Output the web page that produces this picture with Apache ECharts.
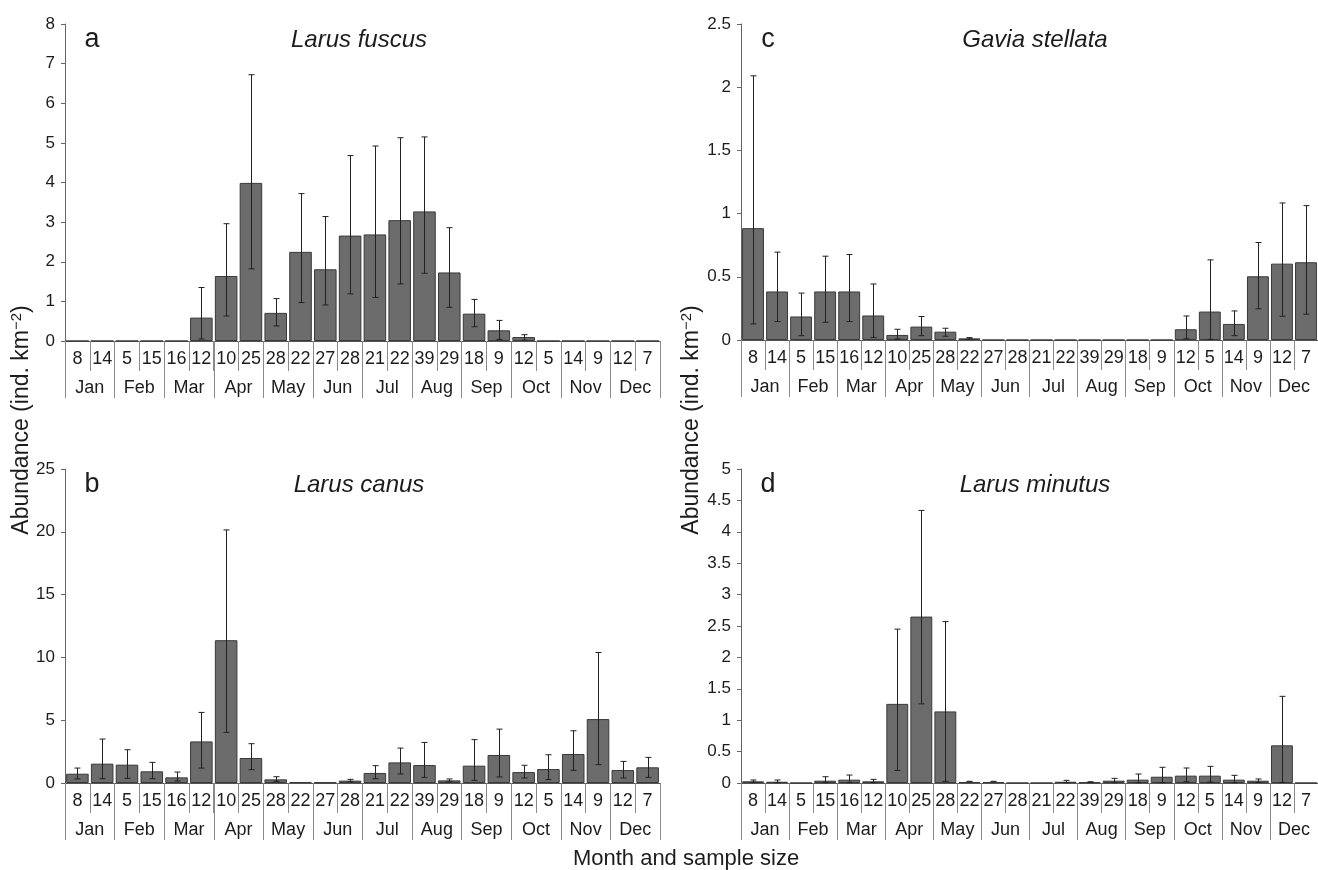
<!DOCTYPE html>
<html>
<head>
<meta charset="UTF-8">
<title>Seasonal abundance</title>
<script src="https://cdn.jsdelivr.net/npm/echarts@6/dist/echarts.min.js"></script>
<style>
  html, body { margin: 0; padding: 0; background: #fff; }
  #main { width: 1318px; height: 870px; }
</style>
</head>
<body>
<div id="main"></div>
<script type="text/javascript">
    // months and sample size (same for all four species)
    var months = ['Jan', 'Feb', 'Mar', 'Apr', 'May', 'Jun', 'Jul', 'Aug', 'Sep', 'Oct', 'Nov', 'Dec'];
    var sampleSizes = [8, 14, 5, 15, 16, 12, 10, 25, 28, 22, 27, 28, 21, 22, 39, 29, 18, 9, 12, 5, 14, 9, 12, 7];

    // a - Larus fuscus
    var fuscusMean = [0, 0, 0, 0, 0, 0.59, 1.64, 3.99, 0.71, 2.25, 1.81, 2.66, 2.69, 3.05, 3.27, 1.73, 0.69, 0.27, 0.10, 0, 0, 0, 0, 0];
    var fuscusLow  = [null, null, null, null, null, 0.05, 0.63, 1.82, 0.38, 0.97, 0.91, 1.19, 1.10, 1.44, 1.71, 0.85, 0.36, 0.04, 0.02, null, null, null, null, null];
    var fuscusHigh = [null, null, null, null, null, 1.35, 2.96, 6.72, 1.07, 3.72, 3.14, 4.68, 4.92, 5.13, 5.15, 2.86, 1.05, 0.52, 0.16, null, null, null, null, null];

    // c - Gavia stellata
    var stellataMean = [0.885, 0.384, 0.186, 0.384, 0.384, 0.194, 0.04, 0.106, 0.066, 0.013, 0, 0, 0, 0, 0, 0, 0, 0, 0.085, 0.225, 0.127, 0.504, 0.604, 0.615];
    var stellataLow  = [0.127, 0.146, 0.034, 0.14, 0.146, 0.02, 0.008, 0.034, 0.03, 0.008, null, null, null, null, null, null, null, null, 0.01, 0.005, 0.034, 0.247, 0.188, 0.204];
    var stellataHigh = [2.09, 0.695, 0.371, 0.663, 0.676, 0.443, 0.085, 0.186, 0.093, 0.019, null, null, null, null, null, null, null, null, 0.19, 0.634, 0.23, 0.771, 1.084, 1.063];

    // b - Larus canus
    var canusMean = [0.74, 1.54, 1.46, 0.93, 0.45, 3.31, 11.37, 1.99, 0.29, 0.08, 0.05, 0.19, 0.80, 1.64, 1.43, 0.21, 1.38, 2.23, 0.87, 1.11, 2.31, 5.09, 1.03, 1.25];
    var canusLow  = [0.32, 0.34, 0.37, 0.34, 0.16, 1.19, 4.03, 1.06, 0.13, null, null, 0.10, 0.34, 0.72, 0.45, 0.10, 0.21, 0.48, 0.40, 0.27, 1.01, 1.46, 0.40, 0.45];
    var canusHigh = [1.19, 3.50, 2.65, 1.64, 0.87, 5.62, 20.15, 3.13, 0.50, null, null, 0.29, 1.38, 2.78, 3.23, 0.32, 3.45, 4.29, 1.41, 2.25, 4.16, 10.39, 1.72, 2.04];

    // d - Larus minutus
    var minutusMean = [0.027, 0.02, 0, 0.037, 0.053, 0.027, 1.26, 2.65, 1.14, 0.016, 0.016, 0, 0, 0.02, 0.01, 0.037, 0.053, 0.10, 0.117, 0.117, 0.053, 0.037, 0.60, 0];
    var minutusLow  = [0.01, 0.005, null, 0.005, 0.005, 0.005, 0.20, 1.26, 0.027, null, null, null, null, 0.005, null, 0.005, 0.005, 0.005, 0.02, 0.015, 0.005, 0.01, 0.01, null];
    var minutusHigh = [0.048, 0.048, null, 0.10, 0.127, 0.058, 2.45, 4.34, 2.57, 0.027, 0.027, null, null, 0.042, 0.02, 0.074, 0.143, 0.25, 0.239, 0.265, 0.122, 0.064, 1.38, null];

    var FONT = '"Liberation Sans", Arial, Helvetica, sans-serif';
    var TXT = '#1c1c1c';

    // panel order: a, c, b, d
    var panels = [
        { letter: 'a', name: 'Larus fuscus',   mean: fuscusMean,   low: fuscusLow,   high: fuscusHigh,   max: 8,   step: 1,   grid: { left: 65,  top: 24,  width: 595, height: 317 } },
        { letter: 'c', name: 'Gavia stellata', mean: stellataMean, low: stellataLow, high: stellataHigh, max: 2.5, step: 0.5, grid: { left: 741, top: 24,  width: 577, height: 316 } },
        { letter: 'b', name: 'Larus canus',    mean: canusMean,    low: canusLow,    high: canusHigh,    max: 25,  step: 5,   grid: { left: 65,  top: 469, width: 595, height: 314 } },
        { letter: 'd', name: 'Larus minutus',  mean: minutusMean,  low: minutusLow,  high: minutusHigh,  max: 5,   step: 0.5, grid: { left: 741, top: 469, width: 577, height: 314 } }
    ];

    // error bar: vertical line with small caps at both ends
    function renderErr(params, api) {
        var i = api.value(0);
        var pHi = api.coord([i, api.value(2)]);
        var pLo = api.coord([i, api.value(1)]);
        var cx = Math.round(pHi[0]) + 0.5;
        var w = 3;
        var st = { stroke: '#222', lineWidth: 1 };
        return {
            type: 'group',
            children: [
                { type: 'line', shape: { x1: cx, y1: pHi[1], x2: cx, y2: pLo[1] }, style: st },
                { type: 'line', shape: { x1: cx - w, y1: pHi[1], x2: cx + w, y2: pHi[1] }, style: st },
                { type: 'line', shape: { x1: cx - w, y1: pLo[1], x2: cx + w, y2: pLo[1] }, style: st }
            ]
        };
    }

    var grids = [], xAxes = [], yAxes = [], series = [], graphics = [];

    panels.forEach(function (p, g) {
        grids.push(p.grid);

        // sample size row
        xAxes.push({
            type: 'category', gridIndex: g, position: 'bottom',
            data: sampleSizes.map(String),
            axisLine: { show: true, lineStyle: { color: '#555', width: 1 } },
            axisTick: { show: true, interval: 0, length: 30, lineStyle: { color: '#8a8a8a' } },
            axisLabel: { interval: 0, margin: 9, fontSize: 18, color: TXT, fontFamily: FONT }
        });
        // month row
        xAxes.push({
            type: 'category', gridIndex: g, position: 'bottom',
            data: months,
            axisLine: { show: false },
            axisTick: { show: true, interval: 0, length: 57, lineStyle: { color: '#8a8a8a' } },
            axisLabel: { interval: 0, margin: 38, fontSize: 18, color: TXT, fontFamily: FONT }
        });
        yAxes.push({
            type: 'value', gridIndex: g, min: 0, max: p.max, interval: p.step,
            splitLine: { show: false },
            axisLine: { show: true, lineStyle: { color: '#666' } },
            axisTick: { show: true, length: 4, lineStyle: { color: '#666' } },
            axisLabel: { fontSize: 17, color: TXT, fontFamily: FONT, margin: 10 }
        });

        series.push({
            type: 'bar', xAxisIndex: 2 * g, yAxisIndex: g,
            data: p.mean,
            barCategoryGap: '9%',
            itemStyle: { color: '#6c6c6c', borderColor: '#3a3a3a', borderWidth: 1 },
            silent: true
        });

        var err = [];
        p.mean.forEach(function (m, i) {
            if (p.high[i] != null) {
                err.push([i, p.low[i] != null ? p.low[i] : m, p.high[i]]);
            }
        });
        series.push({
            type: 'custom', xAxisIndex: 2 * g, yAxisIndex: g,
            renderItem: renderErr,
            encode: { x: 0, y: [1, 2] },
            data: err,
            z: 5, silent: true
        });

        var cxLetter = p.grid.left + 27;
        var cxName = p.grid.left + 294;
        var cy = p.grid.top + 16;
        graphics.push({ type: 'text', x: cxLetter, y: cy, style: { text: p.letter, fontSize: 27, fontFamily: FONT, fill: TXT, align: 'center', verticalAlign: 'middle' } });
        graphics.push({ type: 'text', x: cxName, y: cy, style: { text: p.name, fontSize: 24, fontStyle: 'italic', fontFamily: FONT, fill: TXT, align: 'center', verticalAlign: 'middle' } });
    });

    // shared axis titles
    var yTitle = {
        text: 'Abundance (ind. km{sup|\u22122})',
        fontSize: 23, fontFamily: FONT, fill: TXT, align: 'center', verticalAlign: 'middle',
        rich: { sup: { fontSize: 15, fontFamily: FONT, padding: [0, 0, 11, 0] } }
    };
    graphics.push({ type: 'text', x: 22, y: 420, rotation: Math.PI / 2, style: yTitle });
    graphics.push({ type: 'text', x: 692, y: 420, rotation: Math.PI / 2, style: yTitle });
    graphics.push({ type: 'text', x: 686, y: 859, style: { text: 'Month and sample size', fontSize: 22, fontFamily: FONT, fill: TXT, align: 'center', verticalAlign: 'middle' } });

    var myChart = echarts.init(document.getElementById('main'));
    myChart.setOption({
        animation: false,
        grid: grids,
        xAxis: xAxes,
        yAxis: yAxes,
        series: series,
        graphic: graphics
    });
</script>
</body>
</html>
